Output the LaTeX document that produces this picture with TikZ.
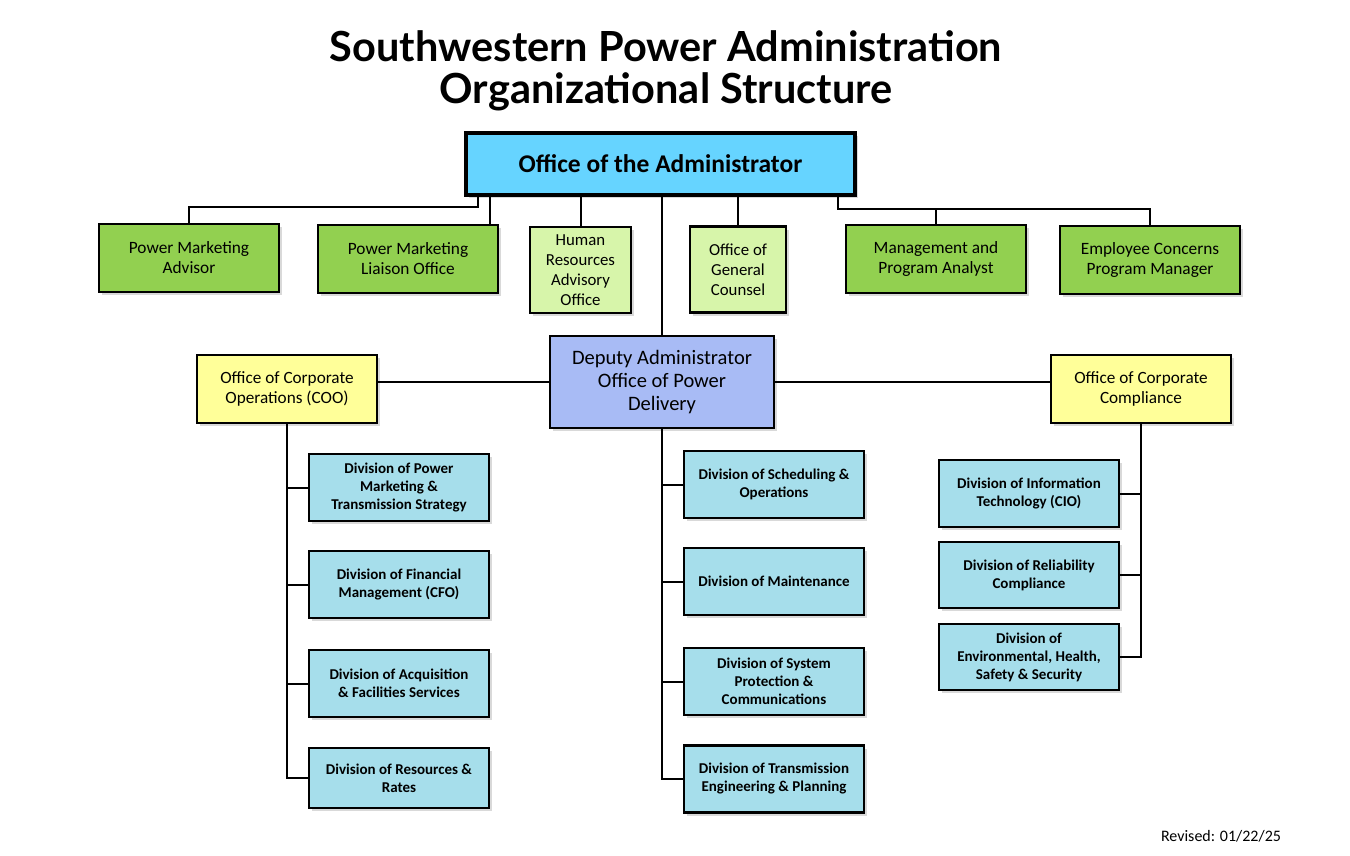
\documentclass[tikz,border=0pt]{standalone}
\usepackage{fontspec}
\setmainfont{Carlito}
\newfontfamily\titlefont{Lato}
\usetikzlibrary{shadows}

\definecolor{admincol}{RGB}{102,212,255}
\definecolor{greenA}{RGB}{146,208,80}
\definecolor{greenB}{RGB}{215,245,170}
\definecolor{depcol}{RGB}{168,187,245}
\definecolor{yellowcol}{RGB}{255,255,153}
\definecolor{divcol}{RGB}{166,222,235}

\begin{document}
\begin{tikzpicture}[x=1pt, y=-1pt,
        box/.style = {draw, line width=2.3pt, align=center, inner sep=2pt,
            drop shadow={shadow xshift=3pt, shadow yshift=-3pt, opacity=0.3}},
        topbox/.style = {box, fill=admincol, line width=4pt, minimum width=389, minimum height=62,
            font=\fontsize{25.5}{28}\selectfont\bfseries},
        greenbox/.style = {box, fill=greenA, minimum width=180, minimum height=68, font=\fontsize{17.3}{20}\selectfont},
        lightbox/.style = {box, fill=greenB, minimum height=86, font=\fontsize{16.8}{20}\selectfont},
        depbox/.style = {box, fill=depcol, minimum width=224, minimum height=92, font=\fontsize{20.5}{23}\selectfont},
        yellowbox/.style = {box, fill=yellowcol, minimum width=180, minimum height=68, font=\fontsize{17.2}{19.5}\selectfont},
        divbox/.style = {box, fill=divcol, minimum width=180, minimum height=67, font=\fontsize{15}{18}\selectfont\bfseries},
        link/.style = {line width=2pt}
        ]
        \useasboundingbox (0,0) rectangle (1350,856);

        % title
        \node[align=center, font=\titlefont\fontsize{41.5}{42}\selectfont\bfseries] (title) at (666,71)
            {Southwestern Power Administration\\Organizational Structure};

        % top level
        \node[topbox] (admin) at (660.5,164) {Office of the Administrator};

        \node[greenbox] (pma) at (189,258) {Power Marketing\\Advisor};
        \node[greenbox] (pmlo) at (408,259) {Power Marketing\\Liaison Office};
        \node[lightbox, minimum width=101] (hr) at (580.5,270) {Human\\Resources\\Advisory\\Office};
        \node[lightbox, minimum width=96] (ogc) at (738,269.5) {Office of\\General\\Counsel};
        \node[greenbox] (mpa) at (936,259) {Management and\\Program Analyst};
        \node[greenbox] (ecpm) at (1150,260) {Employee Concerns\\Program Manager};

        % second level
        \node[depbox] (dep) at (662,382) {Deputy Administrator\\Office of Power\\Delivery};
        \node[yellowbox] (coo) at (287,389) {Office of Corporate\\Operations (COO)};
        \node[yellowbox] (cc) at (1141,389) {Office of Corporate\\Compliance};

        % divisions under COO
        \node[divbox] (dpm) at (399,487.5) {Division of Power\\Marketing \&\\Transmission Strategy};
        \node[divbox] (dfm) at (399,584.5) {Division of Financial\\Management (CFO)};
        \node[divbox] (das) at (399,683.5) {Division of Acquisition\\\& Facilities Services};
        \node[divbox, minimum height=60] (drr) at (399,778) {Division of Resources \&\\Rates};

        % divisions under the deputy
        \node[divbox] (dso) at (774,484.5) {Division of Scheduling \&\\Operations};
        \node[divbox] (dmt) at (774,581.5) {Division of Maintenance};
        \node[divbox] (dsp) at (774,681.5) {Division of System\\Protection \&\\Communications};
        \node[divbox] (dte) at (774,779) {Division of Transmission\\Engineering \& Planning};

        % divisions under compliance
        \node[divbox] (dit) at (1029,493.5) {Division of Information\\Technology (CIO)};
        \node[divbox, minimum height=66] (drc) at (1029,575) {Division of Reliability\\Compliance};
        \node[divbox, minimum height=66] (deh) at (1029,657) {Division of\\Environmental, Health,\\Safety \& Security};

        % links from the administrator
        \draw[link] ([xshift=14pt]admin.south west) |- ([yshift=16pt]pma.north) -- (pma.north);
        \draw[link] ([xshift=26pt]admin.south west) -- ([xshift=26pt]admin.south west |- pmlo.north);
        \draw[link] (admin.south -| hr.north) -- (hr.north);
        \draw[link] (admin.south -| dep.north) -- (dep.north);
        \draw[link] (admin.south -| ogc.north) -- (ogc.north);
        \draw[link] ([xshift=-19pt]admin.south east) |- ([yshift=16pt]ecpm.north) -- (ecpm.north);
        \draw[link] (mpa.north) -- (mpa.north |- 0,210);

        % links from the deputy
        \draw[link] (dep.west) -- (dep.west -| coo.east);
        \draw[link] (dep.east) -- (dep.east -| cc.west);

        \draw[link] (coo.south) |- (drr.west);
        \draw[link] (coo.south |- dpm.west) -- (dpm.west);
        \draw[link] (coo.south |- dfm.west) -- (dfm.west);
        \draw[link] (coo.south |- das.west) -- (das.west);

        \draw[link] (dep.south) |- (dte.west);
        \draw[link] (dep.south |- dso.west) -- (dso.west);
        \draw[link] (dep.south |- dmt.west) -- (dmt.west);
        \draw[link] (dep.south |- dsp.west) -- (dsp.west);

        \draw[link] (cc.south) |- (deh.east);
        \draw[link] (cc.south |- dit.east) -- (dit.east);
        \draw[link] (cc.south |- drc.east) -- (drc.east);

        \node[font=\fontsize{16}{18}\selectfont] (rev) at (1221,836) {Revised: 01/22/25};
    \end{tikzpicture}
\end{document}
